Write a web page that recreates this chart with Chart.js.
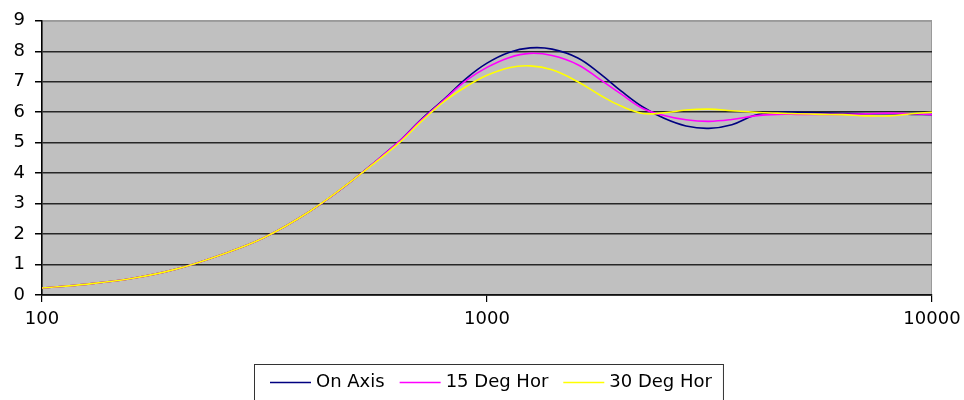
<!DOCTYPE html>
<html>
<head>
<meta charset="utf-8">
<script src="https://cdn.jsdelivr.net/npm/chart.js@4/dist/chart.umd.min.js"></script>
<style>
  html, body { margin: 0; padding: 0; background: #fff; }
  #wrap { width: 964px; height: 400px; }
</style>
</head>
<body>
<div id="wrap"><canvas id="myChart" width="964" height="400"></canvas></div>
<script>
// frequencies (Hz) and levels
const freqs  = [100, 125, 160, 200, 250, 315, 400, 500, 630, 710, 800, 900, 1000, 1120, 1250, 1400, 1600, 1800, 2000, 2240, 2500, 2800, 3150, 3550, 4000, 4500, 5000, 5600, 6300, 7100, 8000, 9000, 10000]
const onAxis = [0.23, 0.35, 0.55, 0.85, 1.3, 1.88, 2.75, 3.78, 5.0, 5.75, 6.42, 7.12, 7.61, 7.96, 8.11, 8.07, 7.78, 7.25, 6.7, 6.17, 5.8, 5.55, 5.47, 5.59, 5.9, 6.0, 6.0, 5.98, 5.96, 5.95, 5.95, 5.93, 5.92]
const deg15  = [0.23, 0.35, 0.55, 0.85, 1.3, 1.88, 2.75, 3.78, 5.0, 5.73, 6.4, 7.05, 7.47, 7.79, 7.93, 7.86, 7.56, 7.06, 6.6, 6.12, 5.89, 5.75, 5.7, 5.76, 5.88, 5.93, 5.93, 5.93, 5.93, 5.95, 5.97, 5.95, 5.92]
const deg30  = [0.23, 0.35, 0.55, 0.85, 1.3, 1.88, 2.75, 3.78, 4.95, 5.68, 6.35, 6.85, 7.21, 7.46, 7.52, 7.39, 7.0, 6.55, 6.2, 5.96, 5.98, 6.07, 6.1, 6.05, 6.0, 5.97, 5.95, 5.93, 5.92, 5.88, 5.88, 5.95, 6.0]

const seriesNames = ['On Axis', '15 Deg Hor', '30 Deg Hor']
const seriesColors = ['#000080', '#ff00ff', '#ffff00']
const xTicks = [100, 1000, 10000]

const FONT = "'DejaVu Sans', sans-serif"

const toPoints = arr => arr.map((v, i) => ({x: freqs[i], y: v}))

// grey plot area with light frame
const plotBg = {
    id: 'plotBg',
    beforeDraw(chart){
        const {ctx, chartArea: a} = chart
        ctx.save()
        ctx.fillStyle = '#c0c0c0'
        ctx.fillRect(a.left, a.top, a.right - a.left, a.bottom - a.top)
        ctx.strokeStyle = '#9a9a9a'
        ctx.lineWidth = 1
        ctx.strokeRect(a.left + 0.5, a.top + 0.5, a.right - a.left - 1, a.bottom - a.top)
        ctx.restore()
    }
}

// boxed legend under the axis
const boxLegend = {
    id: 'boxLegend',
    afterDraw(chart){
        const {ctx, chartArea: a} = chart
        const lineLen = 41, gap = 5, itemGap = 15, padL = 16, padR = 11
        ctx.save()
        ctx.font = '18px ' + FONT
        const widths = seriesNames.map(n => ctx.measureText(n).width)
        let total = padL + padR
        widths.forEach((w, i) => { total += lineLen + gap + w + (i ? itemGap : 0) })
        const left = Math.round((a.left + a.right) / 2 - total / 2) + 1
        const top = 364, h = 40, cy = 382
        ctx.strokeStyle = '#333'
        ctx.lineWidth = 1
        ctx.strokeRect(left + 0.5, top + 0.5, total, h)
        let x = left + padL
        ctx.textBaseline = 'middle'
        ctx.fillStyle = '#000'
        seriesNames.forEach((n, i) => {
            ctx.strokeStyle = seriesColors[i]
            ctx.lineWidth = 1.5
            ctx.beginPath()
            ctx.moveTo(x, cy + 0.5)
            ctx.lineTo(x + lineLen, cy + 0.5)
            ctx.stroke()
            x += lineLen + gap
            ctx.fillText(n, x, cy)
            x += widths[i] + itemGap
        })
        ctx.restore()
    }
}

const ctx = document.getElementById('myChart')

new Chart(ctx, {
    type: 'line',
    data: {
        datasets: [onAxis, deg15, deg30].map((arr, i) => ({
            label: seriesNames[i],
            data: toPoints(arr),
            borderColor: seriesColors[i],
            borderWidth: 1.6,
            pointRadius: 0,
            tension: 0.4,
            order: 3 - i
        }))
    },
    options: {
        responsive: false,
        animation: false,
        layout: { padding: { top: 19, right: 32, left: 0, bottom: 0 } },
        plugins: {
            legend: { display: false },
            tooltip: { enabled: false }
        },
        scales: {
            x: {
                type: 'logarithmic',
                min: 100,
                max: 10000,
                afterBuildTicks: s => { s.ticks = xTicks.map(v => ({value: v})) },
                afterFit: s => {
                    s.height = 105
                    s.paddingLeft = 0
                    s.paddingRight = 0
                },
                ticks: {
                    callback: v => String(v),
                    color: '#000',
                    font: { family: FONT, size: 18 },
                    padding: 7,
                    maxRotation: 0,
                    autoSkip: false
                },
                grid: {
                    drawOnChartArea: false,
                    drawTicks: true,
                    tickLength: 7,
                    color: '#000',
                    lineWidth: 1.2
                },
                border: { display: true, color: '#111', width: 1.5 }
            },
            y: {
                min: 0,
                max: 9,
                afterFit: s => { s.width = 42 },
                ticks: {
                    stepSize: 1,
                    color: '#000',
                    font: { family: FONT, size: 18 },
                    padding: 10
                },
                grid: {
                    color: c => c.tick && c.tick.value === 9 ? '#9a9a9a' : '#262626',
                    lineWidth: 1.5,
                    tickLength: 7,
                    tickColor: '#000'
                },
                border: { display: true, color: '#000', width: 1.5 }
            }
        }
    },
    plugins: [plotBg, boxLegend]
});
</script>
</body>
</html>
